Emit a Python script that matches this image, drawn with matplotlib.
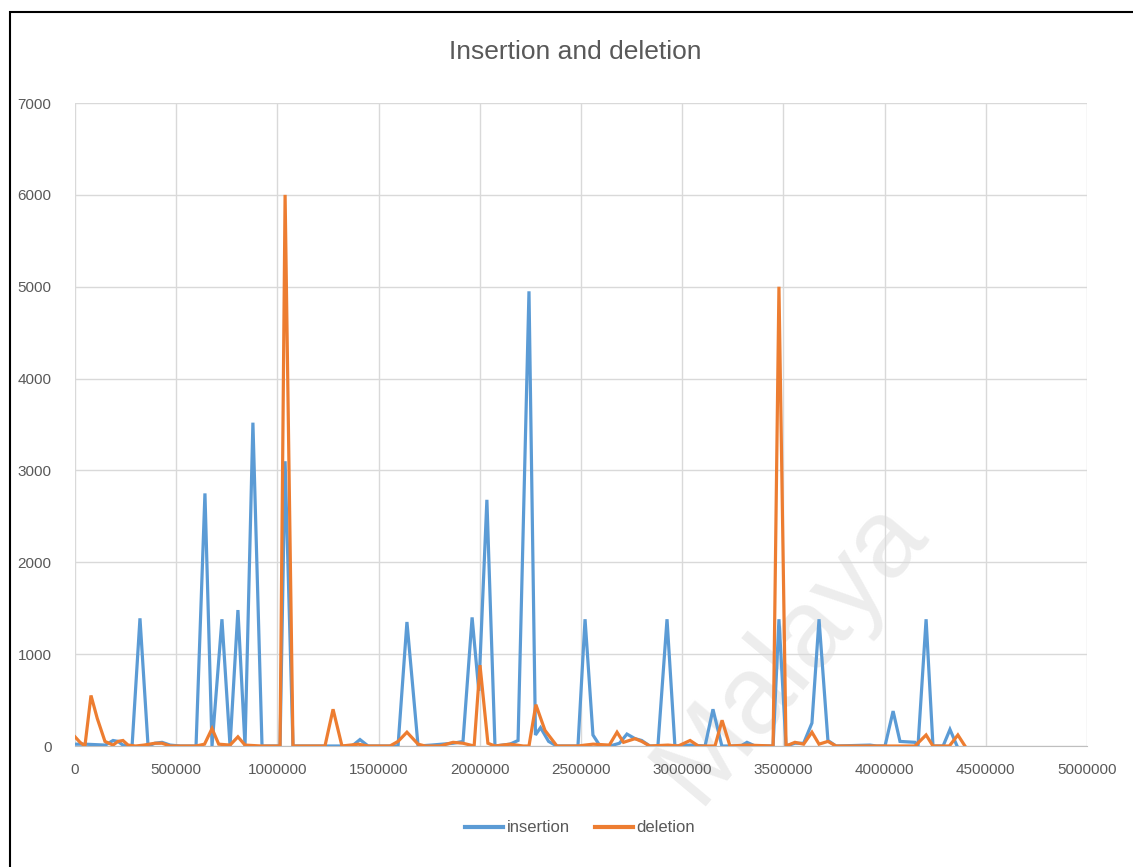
import matplotlib
matplotlib.use("Agg")
import matplotlib.pyplot as plt
from matplotlib.patches import Rectangle
from matplotlib.lines import Line2D

plt.rcParams['font.family'] = ['Liberation Sans Narrow', 'Liberation Sans', 'DejaVu Sans']

title = "Insertion and deletion"
series_names = ["insertion", "deletion"]

ins_x = [0, 49000, 100000, 150000, 188000, 212000, 237000, 282000, 321000, 361000,
         395000, 430000, 470000, 520000, 598000, 642000, 677000, 726000, 766000, 805000,
         840000, 879000, 924000, 1013000, 1038000, 1077000, 1237000, 1369000, 1408000, 1448000,
         1596000, 1640000, 1695000, 1760000, 1868000, 1917000, 1962000, 1995000, 2035000, 2075000,
         2149000, 2189000, 2243000, 2275000, 2300000, 2340000, 2380000, 2485000, 2520000, 2559000,
         2594000, 2643000, 2690000, 2727000, 2767000, 2800000, 2840000, 2880000, 2925000, 2964000,
         3040000, 3113000, 3152000, 3196000, 3290000, 3320000, 3360000, 3449000, 3478000, 3513000,
         3557000, 3600000, 3641000, 3676000, 3720000, 3760000, 3928000, 3960000, 4002000, 4042000,
         4076000, 4150000, 4165000, 4205000, 4239000, 4289000, 4323000, 4358000]
ins_y = [20, 20, 15, 10, 60, 50, 10, 0, 1390, 0,
         30, 40, 10, 0, 0, 2750, 0, 1380, 0, 1480,
         0, 3520, 0, 0, 3100, 0, 0, 0, 70, 0,
         0, 1350, 0, 10, 30, 50, 1400, 600, 2680, 0,
         20, 60, 4950, 120, 200, 50, 0, 0, 1380, 120,
         0, 0, 30, 130, 80, 60, 0, 0, 1380, 0,
         10, 0, 400, 0, 0, 40, 0, 0, 1380, 0,
         30, 30, 250, 1380, 60, 0, 10, 0, 0, 380,
         50, 40, 0, 1380, 0, 0, 180, 0]

del_x = [0, 25000, 49000, 79000, 110000, 148000, 188000, 212000, 237000, 262000,
         300000, 340000, 395000, 430000, 470000, 598000, 640000, 677000, 710000, 766000,
         805000, 840000, 920000, 1013000, 1038000, 1077000, 1235000, 1275000, 1319000, 1400000,
         1448000, 1556000, 1596000, 1640000, 1695000, 1730000, 1803000, 1868000, 1917000, 1972000,
         2001000, 2040000, 2075000, 2149000, 2215000, 2243000, 2277000, 2322000, 2381000, 2485000,
         2520000, 2560000, 2640000, 2678000, 2710000, 2767000, 2800000, 2840000, 2930000, 2980000,
         3039000, 3080000, 3162000, 3197000, 3236000, 3320000, 3449000, 3478000, 3513000, 3557000,
         3600000, 3641000, 3676000, 3720000, 3760000, 4150000, 4205000, 4239000, 4320000, 4362000,
         4397000]
del_y = [100, 40, 0, 550, 300, 50, 10, 50, 60, 10,
         0, 10, 30, 30, 0, 0, 20, 190, 20, 10,
         100, 10, 0, 0, 6000, 0, 0, 400, 0, 20,
         0, 0, 50, 150, 20, 0, 0, 40, 30, 0,
         880, 30, 0, 20, 0, 0, 450, 170, 0, 0,
         10, 20, 10, 150, 40, 80, 50, 0, 10, 0,
         60, 0, 0, 280, 0, 10, 0, 5000, 0, 40,
         20, 150, 20, 50, 0, 0, 120, 0, 0, 120,
         0]

x_ticks = [0, 500000, 1000000, 1500000, 2000000, 2500000, 3000000, 3500000, 4000000, 4500000, 5000000]
y_ticks = [0, 1000, 2000, 3000, 4000, 5000, 6000, 7000]

blue = "#5B9BD5"
orange = "#ED7D31"
txt = "#595959"
grid = "#D9D9D9"

W, H = 1133, 867
fig = plt.figure(figsize=(W / 100, H / 100), dpi=100)
fig.patch.set_facecolor("white")

ax = fig.add_axes([75 / W, 1 - 746 / H, (1087 - 75) / W, (746 - 103) / H])
ax.set_facecolor("none")

ax.plot(ins_x, ins_y, color=blue, lw=2.3, label=series_names[0], zorder=3, solid_joinstyle="miter")
ax.plot(del_x, del_y, color=orange, lw=2.3, label=series_names[1], zorder=4, solid_joinstyle="miter")

ax.set_xlim(0, 5000000)
ax.set_ylim(0, 7000)
ax.set_xticks(x_ticks)
ax.set_xticklabels([str(t) for t in x_ticks])
ax.set_yticks(y_ticks)
ax.set_yticklabels([str(t) for t in y_ticks])
ax.grid(True, color=grid, lw=1.0, zorder=0)
ax.set_axisbelow(True)
for s in ["top", "right", "left"]:
    ax.spines[s].set_visible(False)
ax.spines["bottom"].set_color("#BFBFBF")
ax.tick_params(axis="both", length=0, labelsize=11, labelcolor=txt)
ax.tick_params(axis="x", pad=12)
ax.tick_params(axis="y", pad=17)

fig.text(575 / W, 1 - 52 / H, title, ha="center", va="center", fontsize=19, color=txt)

handles = [Line2D([0], [0], color=blue, lw=3), Line2D([0], [0], color=orange, lw=3)]
fig.legend(handles, series_names, loc="center", bbox_to_anchor=(580 / W, 1 - 828 / H),
           ncol=2, frameon=False, fontsize=12, labelcolor=txt, handlelength=2.3,
           handletextpad=0.2, columnspacing=1.5)

# faint watermark
fig.text(790 / W, 1 - 650 / H, "Malaya", ha="center", va="center", fontsize=80,
         rotation=50, color="#EDEDED", zorder=-1, family=['Liberation Sans', 'DejaVu Sans'])

# figure border
fig.patches.append(Rectangle((10 / W, -0.01), 1.1, 1 - 12 / H + 0.01, transform=fig.transFigure,
                             fill=False, edgecolor="black", lw=1.5, zorder=10))

fig.savefig("out.png", dpi=100)
